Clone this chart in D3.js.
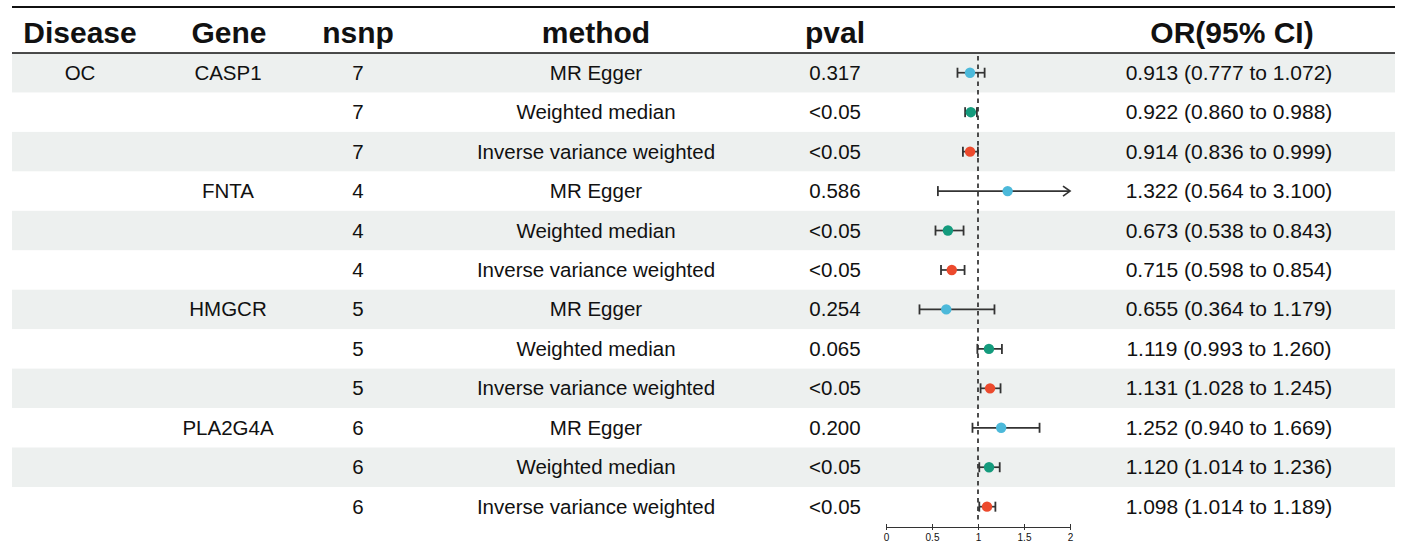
<!DOCTYPE html>
<html>
<head>
<meta charset="utf-8">
<script src="https://cdn.jsdelivr.net/npm/d3@7"></script>
<style>
  html, body { margin: 0; padding: 0; background: #ffffff; }
  svg { display: block; }
  text { font-family: "Liberation Sans", Arial, Helvetica, sans-serif; fill: #111; }
</style>
</head>
<body>
<svg id="chart" width="1417" height="545"></svg>
<script>
// ---- data ----
const headers = ["Disease", "Gene", "nsnp", "method", "pval", "", "OR(95% CI)"];
const diseases = ["OC", "", "", "", "", "", "", "", "", "", "", ""];
const genes = ["CASP1", "", "", "FNTA", "", "", "HMGCR", "", "", "PLA2G4A", "", ""];
const nsnps = ["7", "7", "7", "4", "4", "4", "5", "5", "5", "6", "6", "6"];
const methods = ["MR Egger", "Weighted median", "Inverse variance weighted",
                 "MR Egger", "Weighted median", "Inverse variance weighted",
                 "MR Egger", "Weighted median", "Inverse variance weighted",
                 "MR Egger", "Weighted median", "Inverse variance weighted"];
const pvals = ["0.317", "<0.05", "<0.05", "0.586", "<0.05", "<0.05",
               "0.254", "0.065", "<0.05", "0.200", "<0.05", "<0.05"];
const orValues = [0.913, 0.922, 0.914, 1.322, 0.673, 0.715, 0.655, 1.119, 1.131, 1.252, 1.120, 1.098];
const lowerCI = [0.777, 0.860, 0.836, 0.564, 0.538, 0.598, 0.364, 0.993, 1.028, 0.940, 1.014, 1.014];
const upperCI = [1.072, 0.988, 0.999, 3.100, 0.843, 0.854, 1.179, 1.260, 1.245, 1.669, 1.236, 1.189];
const axisTicks = [0, 0.5, 1, 1.5, 2];
const axisTickLabels = ["0", "0.5", "1", "1.5", "2"];
const methodNames = ["MR Egger", "Weighted median", "Inverse variance weighted"];
const methodColors = ["#4cb9da", "#149b7d", "#ec4a2d"];

// ---- layout ----
const svg = d3.select("#chart");
const left = 12, right = 1395;
const topLineY = 7, headLineY = 53;
const rowH = 39.45;
const nRows = orValues.length;

const y = d3.scaleBand()
  .domain(d3.range(nRows))
  .range([headLineY, headLineY + rowH * nRows])
  .paddingInner(0).paddingOuter(0);

const x = d3.scaleLinear().domain([0, 2]).range([886, 1070]);
const color = d3.scaleOrdinal().domain(methodNames).range(methodColors);

// column centers
const colX = [80, 229, 358, 596, 835, 978, 1232];
const bodyColX = [80, 228, 358, 596, 835, 978, 1229];

// row backgrounds
svg.append("g").selectAll("rect")
  .data(d3.range(nRows))
  .join("rect")
  .attr("x", left)
  .attr("y", i => y(i))
  .attr("width", right - left)
  .attr("height", y.bandwidth() + 0.5)
  .attr("fill", i => i % 2 === 0 ? "#edf0ef" : "#ffffff");

// header lines
svg.append("line").attr("x1", left).attr("x2", right)
  .attr("y1", topLineY).attr("y2", topLineY)
  .attr("stroke", "#111").attr("stroke-width", 2.2);
svg.append("line").attr("x1", left).attr("x2", right)
  .attr("y1", headLineY).attr("y2", headLineY)
  .attr("stroke", "#111").attr("stroke-width", 1.4);

// headers
svg.append("g").selectAll("text")
  .data(headers)
  .join("text")
  .attr("x", (d, i) => colX[i])
  .attr("y", 43)
  .attr("text-anchor", "middle")
  .style("font-size", "30px")
  .style("font-weight", "bold")
  .text(d => d);

// body text columns
const columns = [diseases, genes, nsnps, methods, pvals, null,
  orValues.map((v, i) => `${v.toFixed(3)} (${lowerCI[i].toFixed(3)} to ${upperCI[i].toFixed(3)})`)];

columns.forEach((col, ci) => {
  if (!col) return;
  svg.append("g").selectAll("text")
    .data(col)
    .join("text")
    .attr("x", bodyColX[ci])
    .attr("y", (d, i) => y(i) + y.bandwidth() / 2 + 7)
    .attr("text-anchor", "middle")
    .style("font-size", ci === 6 ? "21px" : "20.5px")
    .text(d => d);
});

// reference dashed line at 1
svg.append("line")
  .attr("x1", x(1)).attr("x2", x(1))
  .attr("y1", headLineY + 3).attr("y2", 521)
  .attr("stroke", "#222").attr("stroke-width", 1.6)
  .attr("stroke-dasharray", "4.5,4");

// forest marks
const fg = svg.append("g");
const capH = 5;
d3.range(nRows).forEach(i => {
  const cy = y(i) + y.bandwidth() / 2;
  const lo = Math.max(lowerCI[i], x.domain()[0]);
  const hi = Math.min(upperCI[i], x.domain()[1]);
  const clippedHi = upperCI[i] > x.domain()[1];
  fg.append("line")
    .attr("x1", x(lo)).attr("x2", x(hi))
    .attr("y1", cy).attr("y2", cy)
    .attr("stroke", "#333").attr("stroke-width", 1.7);
  fg.append("line")
    .attr("x1", x(lo)).attr("x2", x(lo))
    .attr("y1", cy - capH).attr("y2", cy + capH)
    .attr("stroke", "#333").attr("stroke-width", 1.8);
  if (clippedHi) {
    fg.append("path")
      .attr("d", `M${x(hi) - 7},${cy - 5} L${x(hi)},${cy} L${x(hi) - 7},${cy + 5}`)
      .attr("fill", "none").attr("stroke", "#333").attr("stroke-width", 1.7);
  } else {
    fg.append("line")
      .attr("x1", x(hi)).attr("x2", x(hi))
      .attr("y1", cy - capH).attr("y2", cy + capH)
      .attr("stroke", "#333").attr("stroke-width", 1.8);
  }
  fg.append("circle")
    .attr("cx", x(orValues[i])).attr("cy", cy)
    .attr("r", 5.2)
    .attr("fill", color(methods[i]));
});

// x axis
const axisY = 527;
const axisG = svg.append("g")
  .attr("transform", `translate(0,${axisY})`)
  .call(d3.axisBottom(x).tickValues(axisTicks)
    .tickFormat((d, i) => axisTickLabels[i]).tickSize(4).tickSizeOuter(0));
axisG.select(".domain").attr("stroke", "#333").attr("stroke-width", 1);
axisG.selectAll(".tick line").attr("stroke", "#333").attr("stroke-width", 1)
  .attr("y1", -3).attr("y2", 3);
axisG.selectAll(".tick text")
  .attr("y", 7)
  .style("font-size", "10px")
  .style("font-family", "'Liberation Sans', Arial, sans-serif")
  .attr("fill", "#222");
</script>
</body>
</html>
